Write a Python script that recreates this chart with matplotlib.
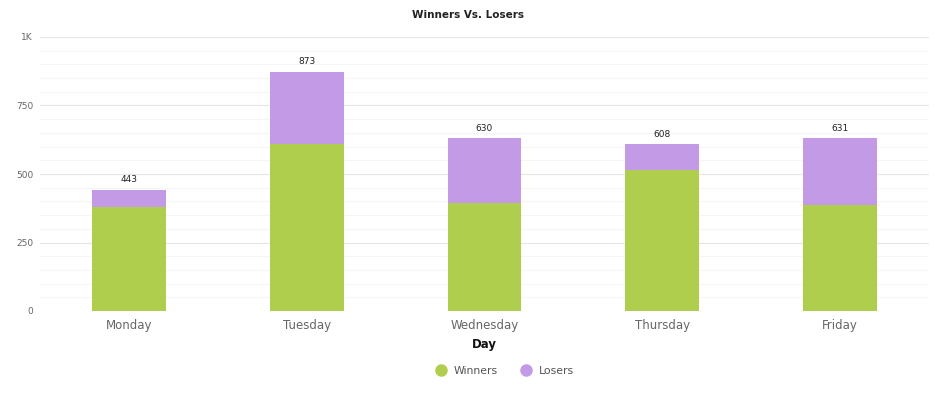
import numpy as np
import matplotlib
matplotlib.use("Agg")
import matplotlib.pyplot as plt
from matplotlib.lines import Line2D

days = ["Monday", "Tuesday", "Wednesday", "Thursday", "Friday"]
winners = [380, 608, 395, 515, 387]
losers = [63, 265, 235, 93, 244]
totals = [443, 873, 630, 608, 631]

green = "#b0ce4e"
purple = "#c39ae6"

fig = plt.figure(figsize=(9.36, 3.97), dpi=100)
ax = fig.add_axes([40 / 936, 86 / 397, 889 / 936, 274 / 397])

x = np.arange(len(days))
ax.bar(x, winners, width=0.415, color=green, zorder=3)
ax.bar(x, losers, width=0.415, bottom=winners, color=purple, zorder=3)

for xi, t in zip(x, totals):
    ax.annotate(str(t), (xi, t), xytext=(0, 4), textcoords="offset points",
                ha="center", va="bottom", fontsize=6.5, color="#222222")

ax.set_xlim(-0.5, 4.5)
ax.set_ylim(0, 1000)
ax.set_yticks([0, 250, 500, 750, 1000])
ax.set_yticklabels(["0", "250", "500", "750", "1K"])
ax.set_yticks(np.arange(0, 1001, 50), minor=True)
ax.grid(axis="y", which="major", color="#e6e6e6", linewidth=0.8, zorder=0)
ax.grid(axis="y", which="minor", color="#f5f5f5", linewidth=0.8, zorder=0)
ax.set_xticks(x)
ax.set_xticklabels(days, fontsize=8.5, color="#666666")
ax.tick_params(axis="y", labelsize=6.5, labelcolor="#666666", length=0, pad=5)
ax.tick_params(axis="y", which="minor", length=0)
ax.tick_params(axis="x", length=0, pad=6)
for s in ax.spines.values():
    s.set_visible(False)

ax.set_xlabel("Day", fontsize=8.5, fontweight="bold", color="#111111", labelpad=4)
fig.text(0.5, 1 - 15 / 397, "Winners Vs. Losers", ha="center", va="center",
         fontsize=7.5, fontweight="bold", color="#222222")

handles = [
    Line2D([], [], marker="o", linestyle="", markersize=8, color=green, label="Winners"),
    Line2D([], [], marker="o", linestyle="", markersize=8, color=purple, label="Losers"),
]
fig.legend(handles=handles, loc="center", bbox_to_anchor=(502 / 936, 1 - 371 / 397), ncol=2,
           frameon=False, fontsize=7.8, labelcolor="#555555", handletextpad=0.2,
           columnspacing=1.6)

fig.savefig("out.png", dpi=100)
